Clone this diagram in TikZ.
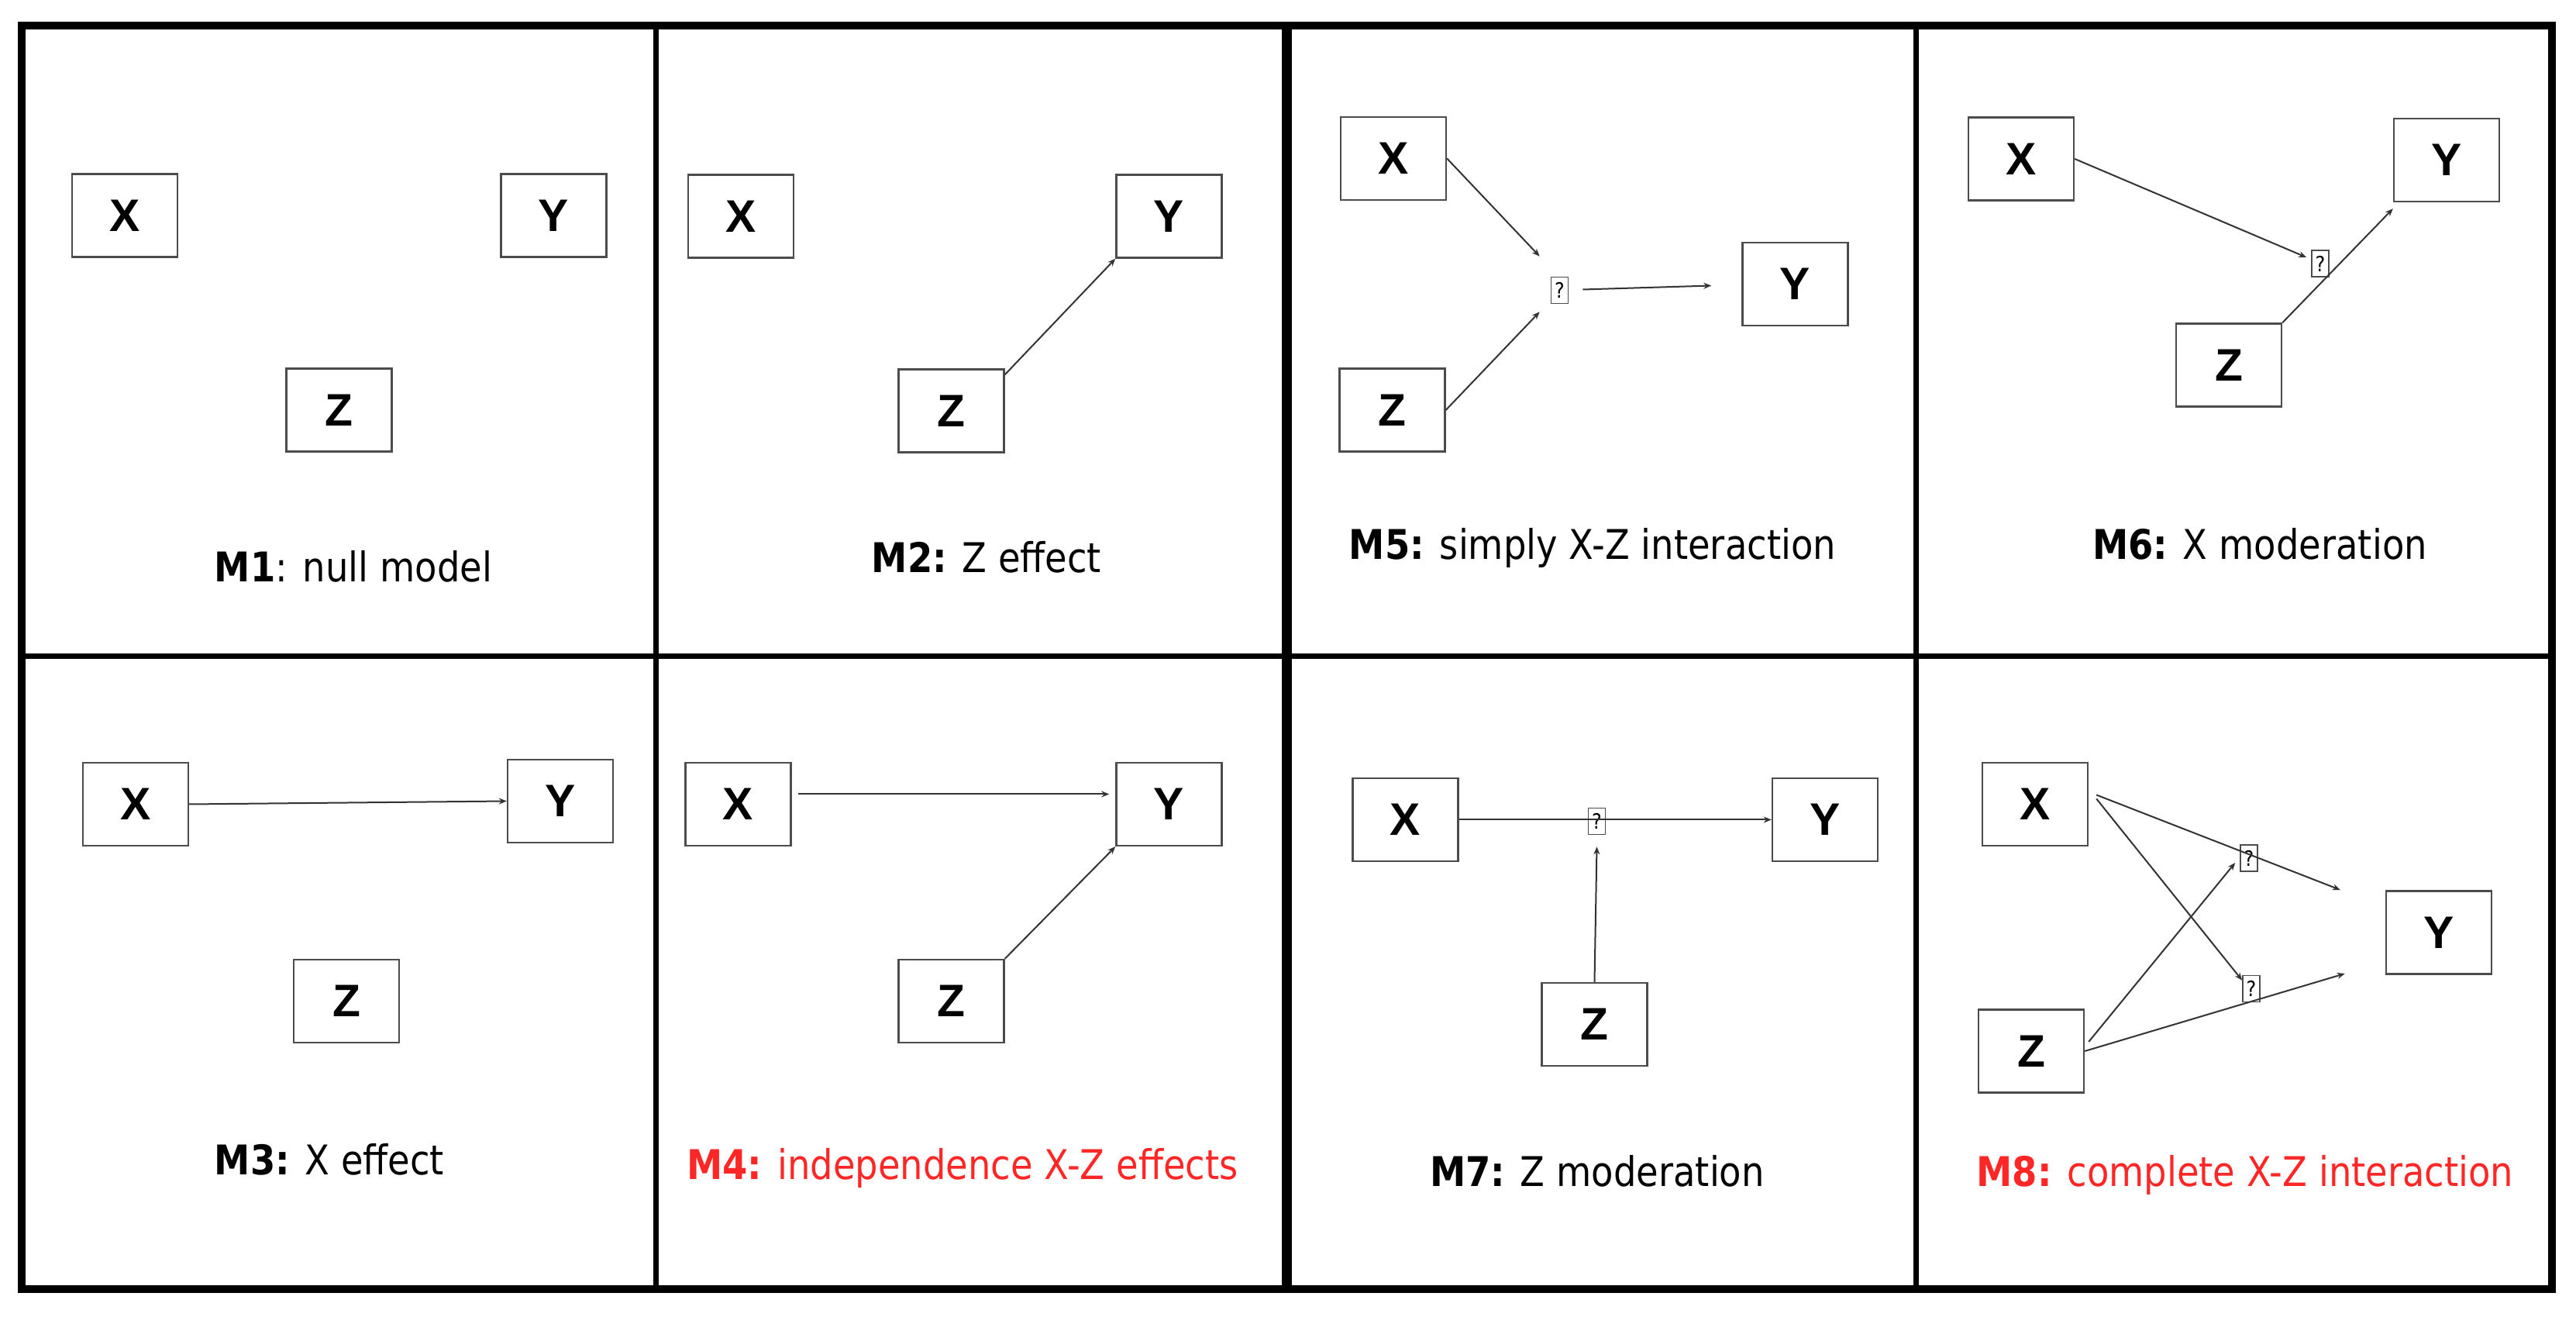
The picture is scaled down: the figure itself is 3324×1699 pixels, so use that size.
\documentclass[tikz,border=0pt]{standalone}
\usepackage{fontspec}
\setmainfont{DejaVu Sans}[FakeStretch=0.88]
\newfontfamily\boxfont{Liberation Sans}
\usetikzlibrary{calc,arrows.meta}
\definecolor{myred}{RGB}{255,38,38}
\tikzset{
  var/.style={draw=black!70, line width=0.6pt, minimum width=34pt, minimum height=26.75pt,
    inner sep=0pt, font=\boxfont\bfseries\fontsize{14.7}{15}\selectfont},
  qbox/.style={draw=black!70, line width=0.4pt, minimum width=5.5pt, minimum height=8.5pt,
    inner sep=0pt, font=\fontsize{6.8}{7}\selectfont},
  lab/.style={anchor=base, inner sep=0pt, font=\fontsize{13.2}{15}\selectfont},
  arr/.style={draw=black!80, line width=0.5pt, -{Stealth[length=2.5pt,width=2pt]}},
  frame/.style={draw=black, line width=2.5pt},
  divthin/.style={draw=black, line width=1.75pt},
  divthick/.style={draw=black, line width=3.25pt}
}
\begin{document}
\begin{tikzpicture}[x=0.25pt,y=-0.25pt]
\useasboundingbox (0,0) rectangle (3324,1699);
% frame and dividers
\draw[divthin] (27.5,846.5) -- (3293,846.5);
\draw[divthin] (846.5,33) -- (846.5,1663);
\draw[divthick] (1660,33) -- (1660,1663);
\draw[divthin] (2472,33) -- (2472,1663);
\draw[frame] (27.5,33) rectangle (3293,1663);

% M1
\node[var] (x1) at (161,278) {X};
\node[var] (y1) at (714.5,278) {Y};
\node[var] (z1) at (437.5,529) {Z};
\node[lab] (l1) at (456,751) {\textbf{M1}: null model};

% M2
\node[var] (x2) at (956,279) {X};
\node[var] (y2) at (1508.5,279) {Y};
\node[var] (z2) at (1227.5,530) {Z};
\draw[arr] ([yshift=-2pt]z2.north east) -- (y2.south west);
\node[lab] (l2) at (1273,739) {\textbf{M2:} Z effect};

% M5
\node[var] (x5) at (1798,204.5) {X};
\node[var] (z5) at (1796.5,529) {Z};
\node[var] (y5) at (2316.5,366.5) {Y};
\node[qbox] (q5) at (2012.5,374.5) {?};
\draw[arr] (x5.east) -- ($(q5.north west)+(-14,-26)$);
\draw[arr] (z5.east) -- ($(q5.south west)+(-14,10)$);
\draw[arr] ($(q5.east)+(18,-1)$) -- ($(y5.west)+(-39,2)$);
\node[lab] (l5) at (2055,722) {\textbf{M5:} simply X-Z interaction};

% M6
\node[var] (x6) at (2608,205) {X};
\node[var] (y6) at (3157,206.5) {Y};
\node[var] (z6) at (2876,471) {Z};
\node[qbox] (q6) at (2994,340) {?};
\draw[arr] (x6.east) -- ($(q6.west)+(-6,-8)$);
\draw[arr] (z6.north east) -- ($(y6.south west)+(0,8)$);
\node[lab] (l6) at (2916,722) {\textbf{M6:} X moderation};

% M3
\node[var] (x3) at (175,1037.5) {X};
\node[var] (y3) at (723,1033.5) {Y};
\node[var] (z3) at (447,1291.5) {Z};
\draw[arr] (x3.east) -- (y3.west);
\node[lab] (l3) at (425,1516) {\textbf{M3:} X effect};

% M4
\node[var] (x4) at (952.5,1037.5) {X};
\node[var] (y4) at (1508.5,1037.5) {Y};
\node[var] (z4) at (1227.5,1291.5) {Z};
\draw[arr] ($(x4.east)+(8,-13)$) -- ($(y4.west)+(-8,-13)$);
\draw[arr] (z4.north east) -- (y4.south west);
\node[lab, text=myred] (l4) at (1242,1522) {\textbf{M4:} independence X-Z effects};

% M7
\node[var] (x7) at (1813.5,1057.5) {X};
\node[var] (y7) at (2355,1057.5) {Y};
\node[var] (z7) at (2057.5,1321.5) {Z};
\node[qbox] (q7) at (2060.5,1059.5) {?};
\draw[arr] (x7.east) -- (y7.west);
\draw[arr] (z7.north) -- ($(q7.south)+(0,15)$);
\node[lab] (l7) at (2061,1531) {\textbf{M7:} Z moderation};

% M8
\node[var] (x8) at (2626,1037.5) {X};
\node[var] (z8) at (2621,1356) {Z};
\node[var] (y8) at (3147,1203) {Y};
\node[qbox] (q81) at (2902,1107) {?};
\node[qbox] (q82) at (2905,1275.5) {?};
\draw[arr] ($(x8.east)+(10,-12)$) -- ($(y8.west)+(-58,-55)$);
\draw[arr] ($(x8.east)+(10,-7)$) -- ($(q82.north west)+(0,7)$);
\draw[arr] ($(z8.east)+(5,-12)$) -- ($(q81.west)+(-6,6)$);
\draw[arr] (z8.east) -- ($(y8.west)+(-52,53)$);
\node[lab, text=myred] (l8) at (2897,1531) {\textbf{M8:} complete X-Z interaction};
\end{tikzpicture}
\end{document}
